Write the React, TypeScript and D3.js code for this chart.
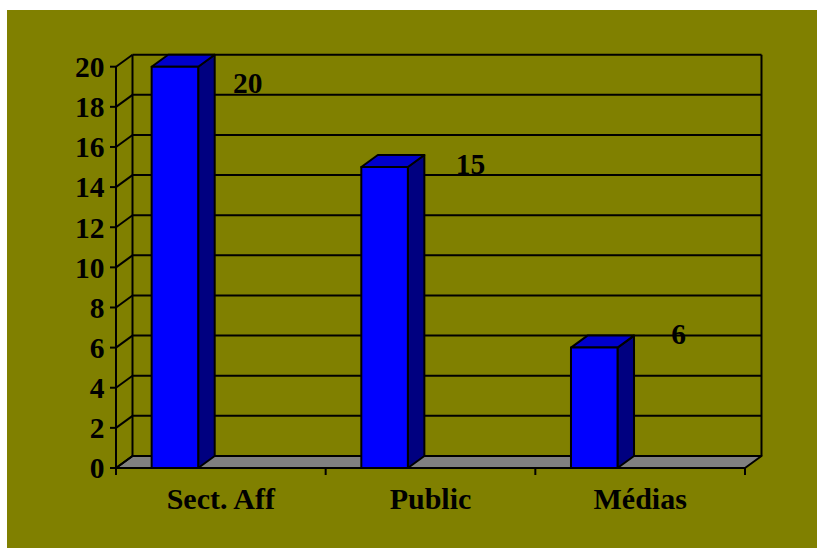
import React from "react";
import * as d3 from "d3";

const categories = ["Sect. Aff", "Public", "Médias"];
const values = [20, 15, 6];
const yTicks = [0, 2, 4, 6, 8, 10, 12, 14, 16, 18, 20];
// label offsets relative to band centre / bar top (style only)
const labelOffsets: [number, number][] = [
  [27, 26],
  [40, 6.5],
  [38.5, -3.4],
];

const W = 817;
const H = 548;
const DX = 16.5;
const DY = 12;
const FONT = "'Liberation Serif', 'Times New Roman', serif";

export default function App() {
  const x = d3.scaleBand<string>().domain(categories).range([116, 745]).padding(0);
  const y = d3.scaleLinear().domain([0, 20]).range([468, 66.7]);
  const bw = x.bandwidth();
  const barOff = bw * 0.17;
  const barW = bw * 0.222;
  const x0 = x.range()[0];
  const x1 = x.range()[1];
  const y0 = y(0);

  return (
    <svg
      width={W}
      height={H}
      style={{ position: "absolute", left: 0, top: 0 }}
    >
      <rect x={7} y={10} width={W - 7} height={H - 10} fill="#808000" />
      {/* floor */}
      <polygon
        points={`${x0},${y0} ${x1},${y0} ${x1 + DX},${y0 - DY} ${x0 + DX},${y0 - DY}`}
        fill="#808080"
        stroke="#000"
        strokeWidth={2}
        strokeLinejoin="round"
      />
      {/* back wall gridlines */}
      {yTicks.map((t) => (
        <g key={t}>
          <line
            x1={x0 + DX}
            x2={x1 + DX}
            y1={y(t) - DY}
            y2={y(t) - DY}
            stroke="#000"
            strokeWidth={2}
          />
          <line
            x1={x0}
            x2={x0 + DX}
            y1={y(t)}
            y2={y(t) - DY}
            stroke="#000"
            strokeWidth={2}
          />
          <line x1={x0 - 6} x2={x0} y1={y(t)} y2={y(t)} stroke="#000" strokeWidth={2} />
          <text
            x={104.5}
            y={y(t)}
            dy="0.35em"
            textAnchor="end"
            fontFamily={FONT}
            fontWeight="bold"
            fontSize={29.5}
          >
            {t}
          </text>
        </g>
      ))}
      <line x1={x0 + DX} x2={x0 + DX} y1={y(20) - DY} y2={y0 - DY} stroke="#000" strokeWidth={2} />
      <line x1={x1 + DX} x2={x1 + DX} y1={y(20) - DY} y2={y0 - DY} stroke="#000" strokeWidth={2} />
      <line x1={x0} x2={x0} y1={y(20)} y2={y0 + 7} stroke="#000" strokeWidth={2} />
      {/* category ticks */}
      {[...categories.map((c) => x(c)!), x1].map((v, i) => (
        <line key={i} x1={v} x2={v} y1={y0} y2={y0 + 7} stroke="#000" strokeWidth={2} />
      ))}
      {/* bars */}
      {categories.map((c, i) => {
        const bx = x(c)! + barOff;
        const by = y(values[i]);
        return (
          <g key={c} stroke="#000" strokeWidth={2} strokeLinejoin="round">
            <polygon
              points={`${bx + barW},${by} ${bx + barW + DX},${by - DY} ${bx + barW + DX},${y0 - DY} ${bx + barW},${y0}`}
              fill="#000080"
            />
            <polygon
              points={`${bx},${by} ${bx + DX},${by - DY} ${bx + barW + DX},${by - DY} ${bx + barW},${by}`}
              fill="#0000cc"
            />
            <rect x={bx} y={by} width={barW} height={y0 - by} fill="#0000ff" />
          </g>
        );
      })}
      {/* value labels */}
      {categories.map((c, i) => (
        <text
          key={c}
          x={x(c)! + bw / 2 + labelOffsets[i][0]}
          y={y(values[i]) + labelOffsets[i][1]}
          textAnchor="middle"
          fontFamily={FONT}
          fontWeight="bold"
          fontSize={29.5}
        >
          {values[i]}
        </text>
      ))}
      {/* category labels */}
      {categories.map((c) => (
        <text
          key={c}
          x={x(c)! + bw / 2}
          y={509}
          textAnchor="middle"
          fontFamily={FONT}
          fontWeight="bold"
          fontSize={30}
        >
          {c}
        </text>
      ))}
    </svg>
  );
}
